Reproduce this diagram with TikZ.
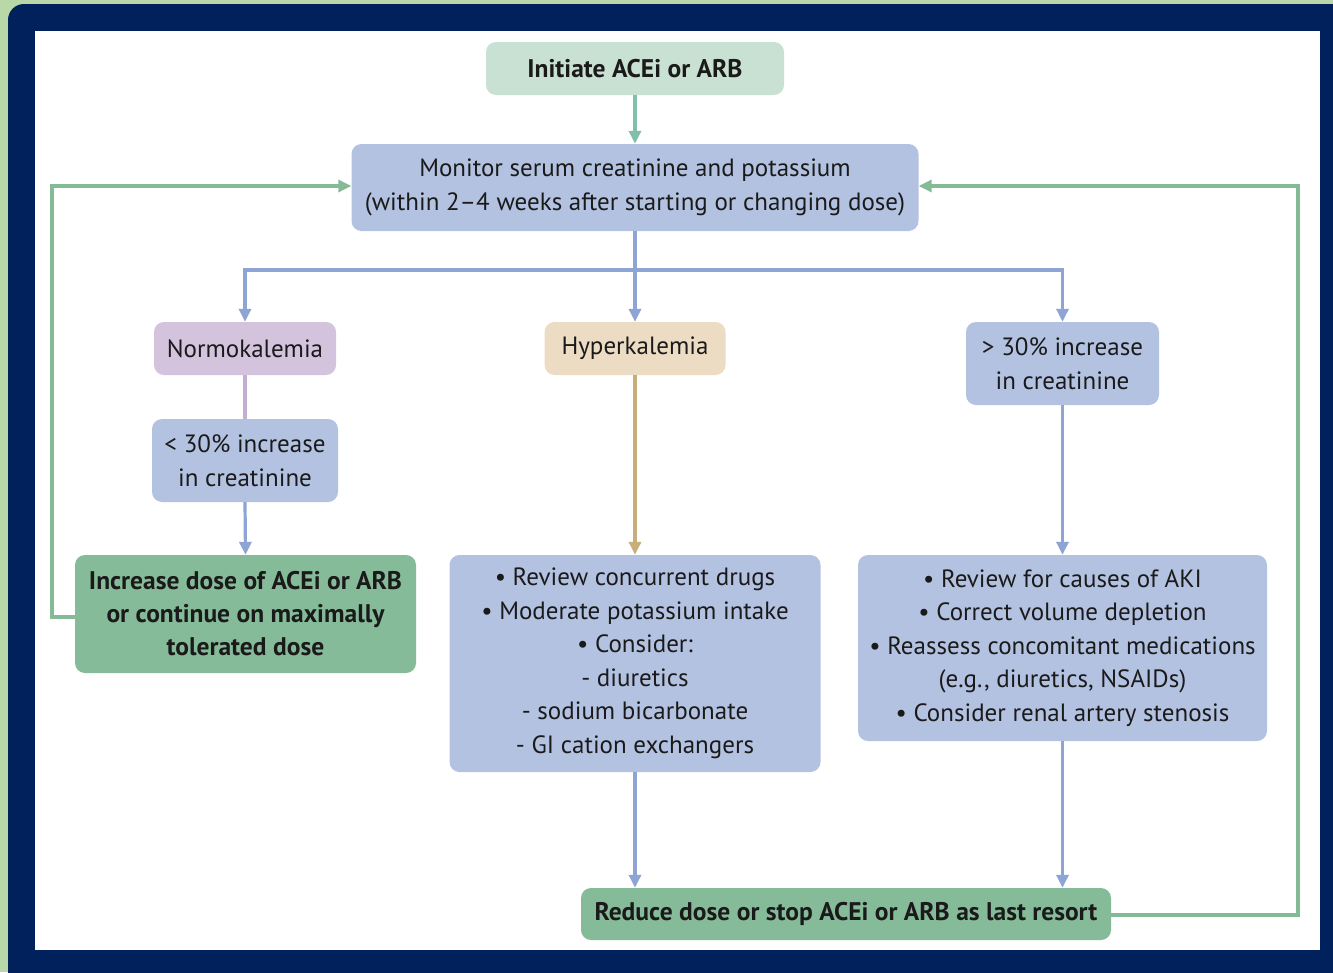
\documentclass[tikz,border=0pt]{standalone}
\usepackage{fontspec}
\setmainfont{PT Sans}
\usetikzlibrary{arrows.meta}
\definecolor{outergreen}{HTML}{B8D8A8}
\definecolor{navy}{HTML}{00215C}
\definecolor{initfill}{HTML}{C9E1D3}
\definecolor{bluefill}{HTML}{B4C2E2}
\definecolor{lavfill}{HTML}{D3C3DD}
\definecolor{beigefill}{HTML}{ECDCC3}
\definecolor{greenfill}{HTML}{86BB99}
\definecolor{tealline}{HTML}{80BFA9}
\definecolor{blueline}{HTML}{8EA4D4}
\definecolor{greenline}{HTML}{84BB96}
\definecolor{lavline}{HTML}{C4AED1}
\definecolor{tanline}{HTML}{C9AD7A}
\definecolor{txt}{HTML}{1A1A1A}
\tikzset{
  box/.style={rounded corners=10pt, draw=none, align=center, text=txt,
    font=\fontsize{25}{33.5}\selectfont, inner sep=0pt},
  boldbox/.style={box, font=\fontsize{25.5}{33}\selectfont\bfseries},
  conn/.style={line width=3.2pt},
  arr/.style={conn, -{Triangle[length=13pt,width=12pt]}},
}
\begin{document}
\begin{tikzpicture}[x=1pt,y=-1pt]
\useasboundingbox (0,0) rectangle (1333,972);
\begin{scope}
\clip (0,0) rectangle (1333,972);
\fill[outergreen] (0,0) rectangle (1333,972);
\fill[navy, rounded corners=16pt] (8,4) rectangle (1380,1020);
\fill[white] (35,31) rectangle (1320,950);
\end{scope}

\node[boldbox, fill=initfill, minimum width=298pt, minimum height=53pt] (init) at (635,68.5) {Initiate ACEi or ARB};
\node[box, fill=bluefill, minimum width=567pt, minimum height=87pt] (mon) at (635,187.5) {Monitor serum creatinine and potassium\\(within 2–4 weeks after starting or changing dose)};
\node[box, fill=lavfill, minimum width=182pt, minimum height=53pt] (normo) at (245,348.5) {Normokalemia};
\node[box, fill=beigefill, minimum width=181pt, minimum height=53pt] (hyper) at (635,348.5) {Hyperkalemia};
\node[box, fill=bluefill, minimum width=193pt, minimum height=83pt] (gt) at (1062.5,363.5) {> 30\% increase\\in creatinine};
\node[box, fill=bluefill, minimum width=186pt, minimum height=83pt] (lt) at (245,460.5) {< 30\% increase\\in creatinine};
\node[boldbox, fill=greenfill, minimum width=341pt, minimum height=118pt] (inc) at (245.5,614) {Increase dose of ACEi or ARB\\or continue on maximally\\tolerated dose};
\node[box, fill=bluefill, minimum width=371pt, minimum height=217pt] (rev) at (635,663.5) {• Review concurrent drugs\\• Moderate potassium intake\\• Consider:\\- diuretics\\- sodium bicarbonate\\- GI cation exchangers};
\node[box, fill=bluefill, minimum width=409pt, minimum height=186pt] (aki) at (1062.5,648) {• Review for causes of AKI\\• Correct volume depletion\\• Reassess concomitant medications\\(e.g., diuretics, NSAIDs)\\• Consider renal artery stenosis};
\node[boldbox, fill=greenfill, minimum width=530pt, minimum height=52pt] (red) at (846,914) {Reduce dose or stop ACEi or ARB as last resort};

\coordinate (split) at (635,270);
\coordinate (lbend) at (52,617);
\coordinate (ltop) at (52,186);
\coordinate (rbend) at (1298,915);
\coordinate (rtop) at (1298,186);

\draw[arr, tealline] (init.south) -- (mon.north);
\draw[conn, blueline] (mon.south) -- (split);
\draw[arr, blueline] (split) -| (normo.north);
\draw[arr, blueline] (split) -| (gt.north);
\draw[arr, blueline] (split) -- (hyper.north);
\draw[conn, lavline] (normo.south) -- (lt.north);
\draw[arr, blueline] (lt.south) -- (inc.north);
\draw[arr, tanline] (hyper.south) -- (rev.north);
\draw[arr, blueline] (gt.south) -- (aki.north);
\draw[arr, blueline] (rev.south) -- (rev.south |- red.north);
\draw[arr, blueline] (aki.south) -- (aki.south |- red.north);
\draw[arr, greenline] (inc.west |- lbend) -- (lbend) -- (ltop) -- (mon.west |- ltop);
\draw[arr, greenline] (red.east |- rbend) -- (rbend) -- (rtop) -- (mon.east |- rtop);
\end{tikzpicture}
\end{document}
